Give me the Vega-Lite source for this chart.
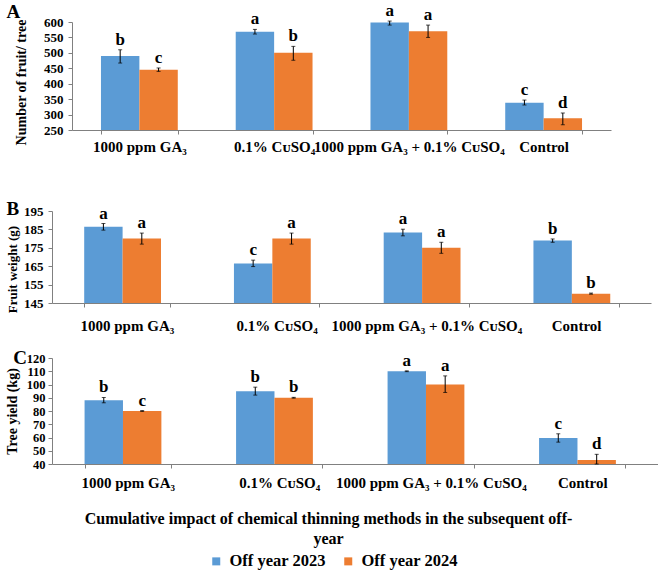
{
  "$schema": "https://vega.github.io/schema/vega-lite/v6.json",
  "padding": {"left": 5, "top": 2, "right": 0, "bottom": 0},
  "background": "white",
  "data": {
    "values": [
      {"p": "A", "t": "1000 ppm GA₃", "y": "Off year 2023", "v": 490, "lo": 467, "hi": 510, "l": "b"},
      {"p": "A", "t": "1000 ppm GA₃", "y": "Off year 2024", "v": 445, "lo": 440, "hi": 451, "l": "c"},
      {"p": "A", "t": "0.1% CᴜSO₄", "y": "Off year 2023", "v": 568, "lo": 561, "hi": 576, "l": "a"},
      {"p": "A", "t": "0.1% CᴜSO₄", "y": "Off year 2024", "v": 500, "lo": 476, "hi": 521, "l": "b"},
      {"p": "A", "t": "1000 ppm GA₃ + 0.1% CᴜSO₄", "y": "Off year 2023", "v": 598, "lo": 590, "hi": 603, "l": "a"},
      {"p": "A", "t": "1000 ppm GA₃ + 0.1% CᴜSO₄", "y": "Off year 2024", "v": 570, "lo": 550, "hi": 590, "l": "a"},
      {"p": "A", "t": "Control", "y": "Off year 2023", "v": 338, "lo": 331, "hi": 347, "l": "c"},
      {"p": "A", "t": "Control", "y": "Off year 2024", "v": 288, "lo": 267, "hi": 305, "l": "d"},

      {"p": "B", "t": "1000 ppm GA₃", "y": "Off year 2023", "v": 186.5, "lo": 184.6, "hi": 188.2, "l": "a"},
      {"p": "B", "t": "1000 ppm GA₃", "y": "Off year 2024", "v": 180, "lo": 177, "hi": 183, "l": "a"},
      {"p": "B", "t": "0.1% CᴜSO₄", "y": "Off year 2023", "v": 166.5, "lo": 164.8, "hi": 168.3, "l": "c"},
      {"p": "B", "t": "0.1% CᴜSO₄", "y": "Off year 2024", "v": 180, "lo": 177, "hi": 183, "l": "a"},
      {"p": "B", "t": "1000 ppm GA₃ + 0.1% CᴜSO₄", "y": "Off year 2023", "v": 183.3, "lo": 181.5, "hi": 185.1, "l": "a"},
      {"p": "B", "t": "1000 ppm GA₃ + 0.1% CᴜSO₄", "y": "Off year 2024", "v": 175, "lo": 172, "hi": 178, "l": "a"},
      {"p": "B", "t": "Control", "y": "Off year 2023", "v": 179, "lo": 178, "hi": 179.8, "l": "b"},
      {"p": "B", "t": "Control", "y": "Off year 2024", "v": 150, "lo": 149.8, "hi": 150.4, "l": "b"},

      {"p": "C", "t": "1000 ppm GA₃", "y": "Off year 2023", "v": 88.2, "lo": 86.2, "hi": 90.2, "l": "b"},
      {"p": "C", "t": "1000 ppm GA₃", "y": "Off year 2024", "v": 80, "lo": 79.7, "hi": 80.3, "l": "c"},
      {"p": "C", "t": "0.1% CᴜSO₄", "y": "Off year 2023", "v": 95, "lo": 92, "hi": 98, "l": "b"},
      {"p": "C", "t": "0.1% CᴜSO₄", "y": "Off year 2024", "v": 90, "lo": 89.7, "hi": 90.3, "l": "b"},
      {"p": "C", "t": "1000 ppm GA₃ + 0.1% CᴜSO₄", "y": "Off year 2023", "v": 110, "lo": 109.7, "hi": 110.3, "l": "a"},
      {"p": "C", "t": "1000 ppm GA₃ + 0.1% CᴜSO₄", "y": "Off year 2024", "v": 100, "lo": 94, "hi": 106.5, "l": "a"},
      {"p": "C", "t": "Control", "y": "Off year 2023", "v": 59.7, "lo": 56.5, "hi": 62.8, "l": "c"},
      {"p": "C", "t": "Control", "y": "Off year 2024", "v": 43, "lo": 40, "hi": 47.3, "l": "d"}
    ]
  },
  "spacing": 45,
  "vconcat": [
    {
      "width": 559,
      "height": 108,
      "title": {"text": "A", "anchor": "start", "frame": "bounds", "offset": -20, "dx": -8},
      "transform": [{"filter": "datum.p === 'A'"}],
      "encoding": {
        "x": {"field": "t", "type": "nominal", "title": null,
              "sort": ["1000 ppm GA₃", "0.1% CᴜSO₄", "1000 ppm GA₃ + 0.1% CᴜSO₄", "Control"],
              "scale": {"range": [20, 559], "paddingInner": 0.43, "paddingOuter": 0.215},
              "axis": {"labelPadding": 5}},
        "xOffset": {"field": "y", "type": "nominal", "scale": {"paddingInner": 0, "paddingOuter": 0}}
      },
      "resolve": {"axis": {"y": "independent"}},
      "layer": [
        {"mark": {"type": "bar"},
         "encoding": {
           "y": {"field": "v", "type": "quantitative", "title": "Number of fruit/ tree",
                 "scale": {"domain": [250, 600], "nice": false, "zero": false},
                 "axis": {"values": [250, 300, 350, 400, 450, 500, 550, 600], "offset": -20, "labelOverlap": false, "titlePadding": 15, "labelPadding": 5, "titleY": 60}},
           "y2": {"datum": 250},
           "color": {"field": "y", "type": "nominal", "title": null,
                     "scale": {"domain": ["Off year 2023", "Off year 2024"], "range": ["#5b9bd5", "#ed7d31"]}}
         }},
        {"mark": {"type": "rule", "color": "black", "strokeWidth": 1},
         "encoding": {"y": {"field": "lo", "type": "quantitative", "axis": null}, "y2": {"field": "hi"}}},
        {"mark": {"type": "tick", "color": "black", "size": 4, "thickness": 1, "orient": "horizontal"},
         "encoding": {"y": {"field": "lo", "type": "quantitative", "axis": null}}},
        {"mark": {"type": "tick", "color": "black", "size": 4, "thickness": 1, "orient": "horizontal"},
         "encoding": {"y": {"field": "hi", "type": "quantitative", "axis": null}}},
        {"mark": {"type": "text", "baseline": "bottom", "dy": -1, "fontSize": 17},
         "encoding": {"y": {"field": "hi", "type": "quantitative", "axis": null}, "text": {"field": "l"}}}
      ]
    },
    {
      "spacing": 15,
      "vconcat": [
        {
          "width": 599,
          "height": 92,
          "title": {"text": "B", "anchor": "start", "frame": "bounds", "offset": -14, "dx": 0},
          "transform": [{"filter": "datum.p === 'B'"}],
          "encoding": {
            "x": {"field": "t", "type": "nominal", "title": null,
                  "sort": ["1000 ppm GA₃", "0.1% CᴜSO₄", "1000 ppm GA₃ + 0.1% CᴜSO₄", "Control"],
                  "scale": {"paddingInner": 0.43, "paddingOuter": 0.215},
                  "axis": {"labelPadding": 11}},
            "xOffset": {"field": "y", "type": "nominal", "scale": {"paddingInner": 0, "paddingOuter": 0}}
          },
          "resolve": {"axis": {"y": "independent"}},
          "layer": [
            {"mark": {"type": "bar"},
             "encoding": {
               "y": {"field": "v", "type": "quantitative", "title": "Fruit weight (g)",
                     "scale": {"domain": [145, 195], "nice": false, "zero": false},
                     "axis": {"values": [145, 155, 165, 175, 185, 195], "labelOverlap": false, "titlePadding": 4, "labelPadding": 5, "titleFontSize": 13, "titleY": 58}},
               "y2": {"datum": 145},
               "color": {"field": "y", "type": "nominal", "title": null,
                         "scale": {"domain": ["Off year 2023", "Off year 2024"], "range": ["#5b9bd5", "#ed7d31"]}}
             }},
            {"mark": {"type": "rule", "color": "black", "strokeWidth": 1},
             "encoding": {"y": {"field": "lo", "type": "quantitative", "axis": null}, "y2": {"field": "hi"}}},
            {"mark": {"type": "tick", "color": "black", "size": 4, "thickness": 1, "orient": "horizontal"},
             "encoding": {"y": {"field": "lo", "type": "quantitative", "axis": null}}},
            {"mark": {"type": "tick", "color": "black", "size": 4, "thickness": 1, "orient": "horizontal"},
             "encoding": {"y": {"field": "hi", "type": "quantitative", "axis": null}}},
            {"mark": {"type": "text", "baseline": "bottom", "dy": -1, "fontSize": 17},
             "encoding": {"y": {"field": "hi", "type": "quantitative", "axis": null}, "text": {"field": "l"}}}
          ]
        },
        {
          "width": 606,
          "height": 106,
          "title": {"text": "C", "anchor": "start", "frame": "bounds", "offset": -16, "dx": 8},
          "transform": [{"filter": "datum.p === 'C'"}],
          "encoding": {
            "x": {"field": "t", "type": "nominal",
                  "title": ["Cumulative impact of chemical thinning methods in the subsequent off-", "year"],
                  "sort": ["1000 ppm GA₃", "0.1% CᴜSO₄", "1000 ppm GA₃ + 0.1% CᴜSO₄", "Control"],
                  "scale": {"paddingInner": 0.43, "paddingOuter": 0.215},
                  "axis": {"labelPadding": 7, "titlePadding": 20, "titleFontSize": 16, "titleLineHeight": 20, "titleX": 276}},
            "xOffset": {"field": "y", "type": "nominal", "scale": {"paddingInner": 0, "paddingOuter": 0}}
          },
          "resolve": {"axis": {"y": "independent"}},
          "layer": [
            {"mark": {"type": "bar"},
             "encoding": {
               "y": {"field": "v", "type": "quantitative", "title": "Tree yield (kg)",
                     "scale": {"domain": [40, 120], "nice": false, "zero": false},
                     "axis": {"values": [40, 50, 60, 70, 80, 90, 100, 110, 120], "labelOverlap": false, "titlePadding": 7, "labelPadding": 3, "labelFontSize": 12.5}},
               "y2": {"datum": 40},
               "color": {"field": "y", "type": "nominal", "title": null,
                         "scale": {"domain": ["Off year 2023", "Off year 2024"], "range": ["#5b9bd5", "#ed7d31"]}}
             }},
            {"mark": {"type": "rule", "color": "black", "strokeWidth": 1},
             "encoding": {"y": {"field": "lo", "type": "quantitative", "axis": null}, "y2": {"field": "hi"}}},
            {"mark": {"type": "tick", "color": "black", "size": 4, "thickness": 1, "orient": "horizontal"},
             "encoding": {"y": {"field": "lo", "type": "quantitative", "axis": null}}},
            {"mark": {"type": "tick", "color": "black", "size": 4, "thickness": 1, "orient": "horizontal"},
             "encoding": {"y": {"field": "hi", "type": "quantitative", "axis": null}}},
            {"mark": {"type": "text", "baseline": "bottom", "dy": -1, "fontSize": 17},
             "encoding": {"y": {"field": "hi", "type": "quantitative", "axis": null}, "text": {"field": "l"}}}
          ]
        }
      ]
    }
  ],
  "resolve": {"scale": {"color": "shared"}},
  "config": {
    "font": "Liberation Serif",
    "view": {"stroke": null},
    "text": {"font": "Liberation Serif", "fontWeight": "bold", "color": "black"},
    "title": {"font": "Liberation Serif", "fontWeight": "bold", "fontSize": 19, "color": "black", "baseline": "bottom"},
    "axis": {
      "grid": false,
      "labelFont": "Liberation Serif", "labelFontWeight": "bold", "labelColor": "black", "labelFontSize": 13,
      "titleFont": "Liberation Serif", "titleFontWeight": "bold", "titleColor": "black", "titleFontSize": 14,
      "domainColor": "#808080", "tickColor": "#808080", "tickSize": 4
    },
    "axisY": {"labelOverlap": false},
    "axisX": {"labelAngle": 0, "labelFontSize": 15, "tickBand": "extent", "labelOverlap": false, "labelLimit": 0},
    "legend": {
      "orient": "none", "legendX": 156, "legendY": 531, "direction": "horizontal",
      "labelFont": "Liberation Serif", "labelFontWeight": "bold", "labelFontSize": 16.5, "labelColor": "black",
      "labelOffset": 5, "symbolType": "square", "symbolSize": 64, "symbolStrokeWidth": 0, "columnPadding": 14
    }
  }
}
